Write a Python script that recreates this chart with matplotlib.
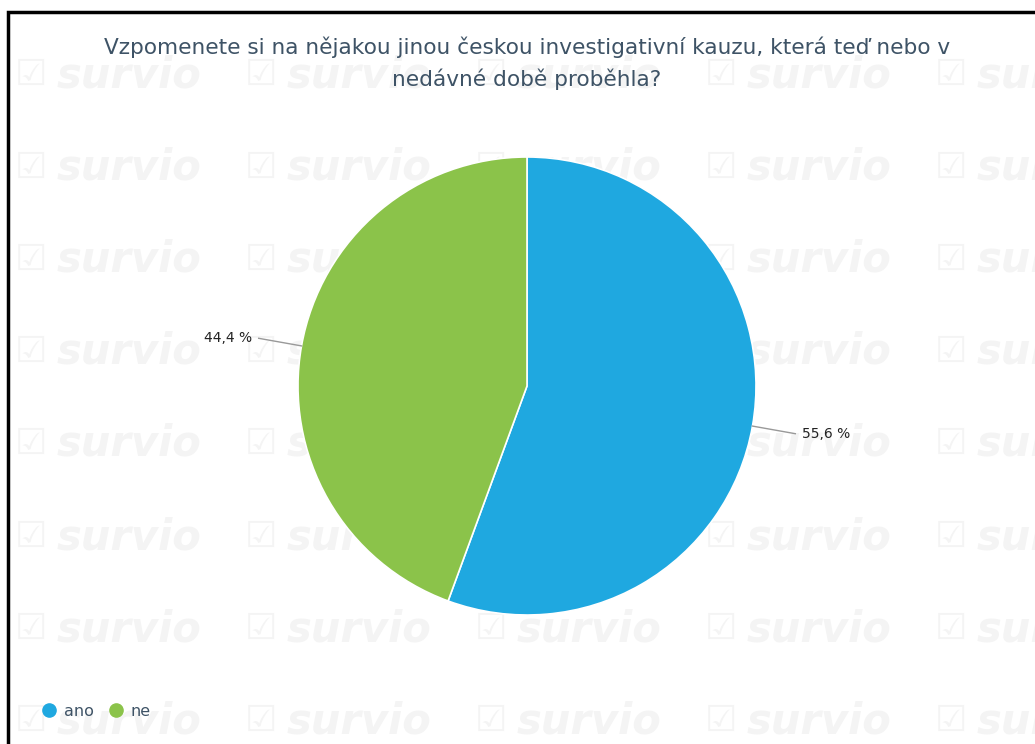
import numpy as np
import matplotlib
matplotlib.use("Agg")
import matplotlib.pyplot as plt
from matplotlib.patches import Rectangle
from matplotlib.lines import Line2D

title = "Vzpomenete si na nějakou jinou českou investigativní kauzu, která teď nebo v\nnedávné době proběhla?"
categories = ["ano", "ne"]
shares = [55.6, 44.4]
colors = ["#1fa8e0", "#8bc34a"]

W, H = 1035, 744
fig = plt.figure(figsize=(W / 100, H / 100), dpi=100)
fig.patch.set_facecolor("white")

# watermark grid (behind everything)
for wx in [15, 245, 475, 705, 935]:
    for wy in [75, 168, 260, 352, 444, 537, 629, 721]:
        fig.text(wx / W, 1 - wy / H, "\u2611", fontsize=26, color="#f4f4f4",
                 ha="left", va="center", zorder=-5)
        fig.text((wx + 42) / W, 1 - wy / H, "survio", fontsize=30, color="#f4f4f4",
                 fontweight="bold", fontstyle="italic", ha="left", va="center", zorder=-5)

# outer frame
fig.patches.append(Rectangle((8, -10), W + 20, H - 12 + 10, transform=None,
                             fill=False, edgecolor="black", linewidth=2.5, zorder=5))

fig.text(527 / W, 1 - 63 / H, title, ha="center", va="center", fontsize=15.6,
         color="#3e5366", linespacing=1.6)

cx, cy, r = 527, 386, 229
ax = fig.add_axes([(cx - r) / W, (H - cy - r) / H, 2 * r / W, 2 * r / H])
ax.patch.set_alpha(0)
wedges, _ = ax.pie(shares, colors=colors, startangle=90, counterclock=False,
                   wedgeprops=dict(edgecolor="white", linewidth=1.2))
ax.set_xlim(-1, 1)
ax.set_ylim(-1, 1)
ax.set_aspect("equal")

for w, v in zip(wedges, shares):
    ang = np.deg2rad((w.theta1 + w.theta2) / 2)
    x, y = np.cos(ang), np.sin(ang)
    ha = "left" if x > 0 else "right"
    ax.plot([x, 1.19 * x], [y, 1.19 * y], color="#999999", lw=1, clip_on=False)
    ax.text(1.22 * x, 1.19 * y, f"{v:.1f} %".replace(".", ","), ha=ha, va="center",
            fontsize=10, color="#222222")

handles = [Line2D([], [], marker="o", linestyle="", markersize=9.5, color=c) for c in colors]
fig.legend(handles, categories, loc="center left", bbox_to_anchor=(27 / W, 1 - 711 / H),
           ncol=2, frameon=False, handletextpad=-0.1, columnspacing=0.4,
           fontsize=11.5, labelcolor="#3e5366", borderaxespad=0)

fig.savefig("out.png", dpi=100)
